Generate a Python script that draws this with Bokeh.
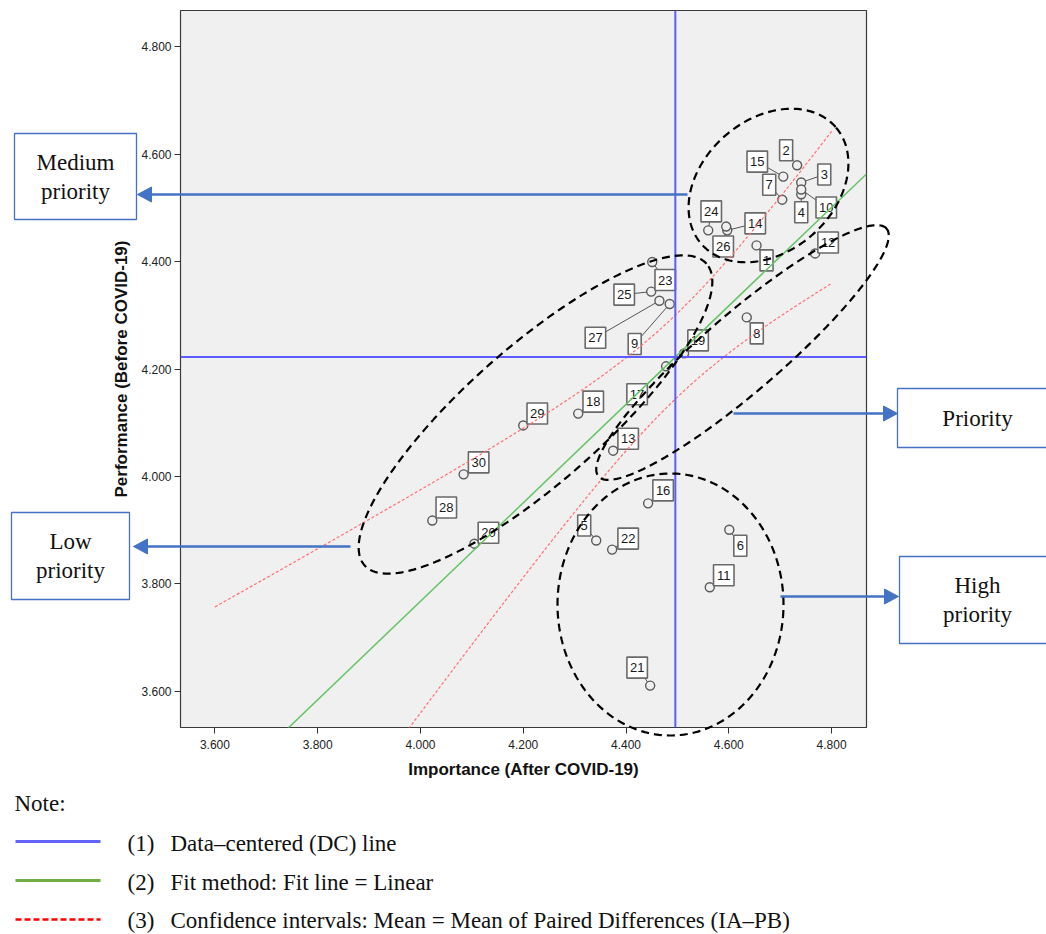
import numpy as np
from bokeh.plotting import figure
from bokeh.models import Range1d, FixedTicker, NumeralTickFormatter, Span, ColumnDataSource
from bokeh.embed import file_html
from bokeh.resources import INLINE
from bokeh.core.properties import value

# ---------------- data ----------------
item_ids = [str(i) for i in range(1, 31)]
importance_after = [4.654, 4.733, 4.741, 4.741, 4.342, 4.601, 4.704, 4.635, 4.485, 4.741,
                    4.563, 4.768, 4.375, 4.597, 4.706, 4.443, 4.478, 4.307, 4.513, 4.105,
                    4.447, 4.373, 4.451, 4.560, 4.449, 4.595, 4.465, 4.023, 4.200, 4.084]
performance_before = [4.430, 4.579, 4.547, 4.525, 3.881, 3.901, 4.515, 4.296, 4.321, 4.534,
                      3.794, 4.415, 4.048, 4.458, 4.558, 3.950, 4.205, 4.117, 4.229, 3.875,
                      3.611, 3.864, 4.399, 4.458, 4.344, 4.465, 4.327, 3.918, 4.095, 4.004]
x_ticks = [3.6, 3.8, 4.0, 4.2, 4.4, 4.6, 4.8]
y_ticks = [3.6, 3.8, 4.0, 4.2, 4.4, 4.6, 4.8]
x_title = "Importance (After COVID-19)"
y_title = "Performance (Before COVID-19)"
notes = ["Data\u2013centered (DC) line",
         "Fit method: Fit line = Linear",
         "Confidence intervals: Mean = Mean of Paired Differences (IA\u2013PB)"]
box_texts = [["Medium", "priority"], ["Low", "priority"], ["Priority"], ["High", "priority"]]

# label placement (pixel offsets of each data label from its point; styling only)
label_dx = [10, -11, 23, 0, -12, 11, -13, 10, -35, 25, 14, 13, 15, 28, -26, 15, -29, 15, 14, 14,
            -13, 16, 13, 3, -27, -3, -64, 14, 14, 15]
label_dy = [15, -15, -8, 18, -15, 16, -15, 16, 40, 18, -12, -11, -12, -7, -15, -13, 28, -12, -13, -11,
            -18, -11, 18, -19, 3, 20, 37, -13, -12, -12]

# ---------------- geometry ----------------
W, H = 1046, 934
X0, X1 = 3.533, 4.868
Y0, Y1 = 3.533, 4.867
FL, FT, FR, FB = 180, 10, 866, 727  # frame edges in page pixels
SX = (FR - FL) / (X1 - X0)
SY = (FB - FT) / (Y1 - Y0)


def dx(px):
    return X0 + (np.asarray(px, dtype=float) - FL) / SX


def dy(py):
    return Y1 - (np.asarray(py, dtype=float) - FT) / SY


def fl(arr):
    return [float(v) for v in np.atleast_1d(arr)]


p = figure(width=W, height=H, x_range=Range1d(X0, X1), y_range=Range1d(Y0, Y1),
           output_backend="svg", toolbar_location=None, title=None,
           min_border_left=FL, min_border_right=W - FR, min_border_top=FT, min_border_bottom=H - FB)
p.background_fill_color = "#f0f0f0"
p.border_fill_color = "white"
p.outline_line_color = "#3a3a3a"
p.outline_line_width = 1.2
p.grid.visible = False

for ax, tk in ((p.xaxis[0], x_ticks), (p.yaxis[0], y_ticks)):
    ax.ticker = FixedTicker(ticks=tk)
    ax.formatter = NumeralTickFormatter(format="0.000")
    ax.axis_line_color = None
    ax.major_tick_out = 6
    ax.major_tick_in = 0
    ax.minor_tick_out = 0
    ax.minor_tick_in = 0
    ax.major_tick_line_color = "#333333"
    ax.major_label_text_font = "Liberation Sans"
    ax.major_label_text_font_size = "12px"
    ax.major_label_text_color = "#222222"
    ax.axis_label_text_font = "Liberation Sans"
    ax.axis_label_text_font_style = "bold"
    ax.axis_label_text_font_size = "17px"
    ax.axis_label_text_color = "#111111"
p.xaxis.axis_label = x_title
p.yaxis.axis_label = y_title
p.xaxis.major_label_standoff = 6
p.xaxis.axis_label_standoff = 8
p.yaxis.major_label_standoff = 3
p.yaxis.axis_label_standoff = 7

xa = np.array(importance_after)
ya = np.array(performance_before)
lx = xa + np.array(label_dx) / SX
ly = ya - np.array(label_dy) / SY
bw = [13 if len(s) == 1 else 20.5 for s in item_ids]
src = ColumnDataSource(dict(x=xa, y=ya, lx=lx, ly=ly, bw=bw, id=item_ids))

# leader lines, points, data labels
p.segment(x0="x", y0="y", x1="lx", y1="ly", source=src, line_color="#555555", line_width=1)
p.scatter("x", "y", source=src, marker="circle", size=9, fill_color="#f0f0f0",
          line_color="#5a5a5a", line_width=1.4)
p.rect(x="lx", y="ly", width="bw", height=21, width_units="screen", height_units="screen",
       source=src, fill_color="white", line_color="#6a6a6a", line_width=1.6)
p.text(x="lx", y="ly", text="id", source=src, text_align="center", text_baseline="middle",
       text_font=value("Liberation Sans"), text_font_size="13px", text_color="#1a1a1a")

# fit line and confidence band of the mean (computed from the data)
n = len(xa)
slope, intercept = np.polyfit(xa, ya, 1)
xbar = xa.mean()
sxx = ((xa - xbar) ** 2).sum()
resid = ya - (intercept + slope * xa)
s = np.sqrt((resid ** 2).sum() / (n - 2))
t95 = 2.048
xf = np.array([X0, X1])
p.line(xf, intercept + slope * xf, line_color="#66c266", line_width=1.5)
xg = np.linspace(3.6, 4.8, 241)
hw = t95 * s * np.sqrt(1.0 / n + (xg - xbar) ** 2 / sxx)
fit = intercept + slope * xg
p.line(xg, fit + hw, line_color="#ff6f6f", line_width=1.2, line_dash="3 2")
p.line(xg, fit - hw, line_color="#ff6f6f", line_width=1.2, line_dash="3 2")

# data-centered lines
p.add_layout(Span(location=float(xa.mean()), dimension="height", line_color="#5c5cff", line_width=2))
p.add_layout(Span(location=float(ya.mean()), dimension="width", line_color="#5c5cff", line_width=2))

OV = "overlay"  # drawn without clipping to the plot area


# dashed ellipses (page-pixel geometry)
def ellipse_poly(cx, cy, a, b, ang_deg, npts=200):
    tt = np.linspace(0, 2 * np.pi, npts)
    th = np.radians(ang_deg)
    ex, ey = a * np.cos(tt), b * np.sin(tt)
    px = cx + ex * np.cos(th) - ey * np.sin(th)
    py = cy - (ex * np.sin(th) + ey * np.cos(th))
    return fl(dx(px)), fl(dy(py))


for (cx, cy, a, b, ang) in [(768, 185, 89, 66, 41), (535, 414, 228, 68, 41.4),
                            (742, 352, 190, 39, 40.7), (670, 604, 113, 131, 0)]:
    exs, eys = ellipse_poly(cx, cy, a, b, ang)
    p.line(exs, eys, line_color="black", line_width=2.2, line_dash="8 5", level=OV)

ARROW = "#4472c4"
HL, HW = 14, 7.5
for (x0, y0, x1) in [(687, 194, 137), (350, 546, 133), (733, 413, 897), (780, 596, 898)]:
    sgn = 1 if x1 > x0 else -1
    base = x1 - sgn * HL
    p.line(fl(dx([x0, base + sgn])), fl(dy([y0, y0])), line_color=ARROW, line_width=2.5, level=OV)
    p.patch(fl(dx([x1, base, base, x1])), fl(dy([y0, y0 - HW, y0 + HW, y0])),
            fill_color=ARROW, fill_alpha=1.0, line_color=ARROW, line_width=1, level=OV)

# category boxes
boxes = [(14, 133, 136, 219), (11, 512, 129, 599), (897, 388, 1060, 447), (899, 556, 1060, 643)]
p.quad(left=[float(dx(b[0])) for b in boxes], right=[float(dx(b[2])) for b in boxes],
       top=[float(dy(b[1])) for b in boxes], bottom=[float(dy(b[3])) for b in boxes],
       fill_color="white", line_color=ARROW, line_width=1.3, level=OV)

SERIF = value("Liberation Serif")
bt_x, bt_y, bt_t = [], [], []
for b, lines in zip(boxes, box_texts):
    cx = (b[0] + b[2]) / 2 if b[2] < 1000 else 977
    cy = (b[1] + b[3]) / 2
    gap = 29
    start = cy - gap * (len(lines) - 1) / 2
    for k, t in enumerate(lines):
        bt_x.append(float(dx(cx)))
        bt_y.append(float(dy(start + k * gap)))
        bt_t.append(t)
p.text(x=bt_x, y=bt_y, text=bt_t, text_align="center", text_baseline="middle",
       text_font=SERIF, text_font_size="23px", text_color="#111111", level=OV)

# notes
note_base = [843, 882, 920]
note_line_y = [841, 880, 919]
note_colors = ["#6464ff", "#70ad47", "#ff0000"]
note_dash = ["solid", "solid", "6 3"]
note_w = [3, 3, 2.5]
for i in range(3):
    p.line(fl(dx([15, 100])), fl(dy([note_line_y[i]] * 2)), line_color=note_colors[i],
           line_width=note_w[i], line_dash=note_dash[i], level=OV)
nt_x = [float(dx(14))] + [float(dx(127))] * 3 + [float(dx(170))] * 3
nt_y = [float(dy(803))] + [float(dy(v)) for v in note_base] * 2
nt_t = ["Note:"] + ["(%d)" % (i + 1) for i in range(3)] + notes
p.text(x=nt_x, y=nt_y, text=nt_t, text_align="left", text_baseline="alphabetic",
       text_font=SERIF, text_font_size="23px", text_color="#111111", level=OV)

open("out.html", "w").write(file_html(p, INLINE))
